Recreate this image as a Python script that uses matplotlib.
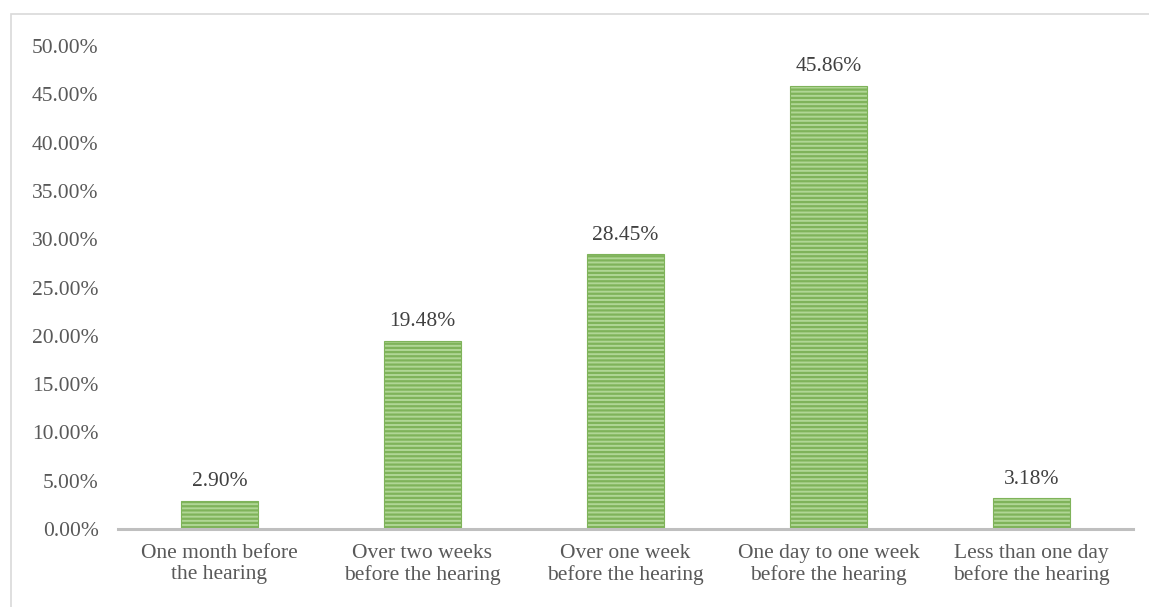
import matplotlib.pyplot as plt
import matplotlib.patches as mpatches
import numpy as np

categories = ["One month before\nthe hearing", "Over two weeks\nbefore the hearing",
              "Over one week\nbefore the hearing", "One day to one week\nbefore the hearing",
              "Less than one day\nbefore the hearing"]
values = [2.90, 19.48, 28.45, 45.86, 3.18]

plt.rcParams['font.family'] = ['Liberation Serif', 'DejaVu Serif']
plt.rcParams['hatch.linewidth'] = 1.6
plt.rcParams['hatch.color'] = '#5a9a35'

fig = plt.figure(figsize=(11.49, 6.07), dpi=100)
ax = fig.add_axes([0.1027, 0.1285, 0.8833, 0.7955])

# outer chart frame
fig.patches.append(mpatches.Rectangle((11/1149, -0.01), 1.02, 1 - 14/607 + 0.01,
                                      transform=fig.transFigure, fill=False,
                                      edgecolor='#d9d9d9', linewidth=1.2))

x = np.arange(len(values))
bars = ax.bar(x, values, width=0.38, color='#b0d695', edgecolor='#7fb35a',
              linewidth=0.8, hatch='----')

for xi, v in zip(x, values):
    ax.annotate(f"{v:.2f}%", (xi, v), xytext=(0, 7), textcoords='offset points',
                ha='center', va='bottom', fontsize=15.5, color='#404040')

ax.set_xlim(-0.5, len(values) - 0.5)
ax.set_ylim(0, 50)
ax.set_yticks(np.arange(0, 51, 5))
ax.set_yticklabels([f"{t:.2f}%" for t in np.arange(0, 51, 5)])
ax.set_xticks(x)
ax.set_xticklabels(categories, linespacing=1.15)
ax.tick_params(axis='both', length=0, labelsize=15.5, labelcolor='#595959')
ax.tick_params(axis='y', pad=14)
ax.tick_params(axis='x', pad=11)

for s in ['top', 'right', 'left']:
    ax.spines[s].set_visible(False)
ax.spines['bottom'].set_color('#bfbfbf')
ax.spines['bottom'].set_linewidth(2.2)

plt.savefig('out.png', dpi=100)
